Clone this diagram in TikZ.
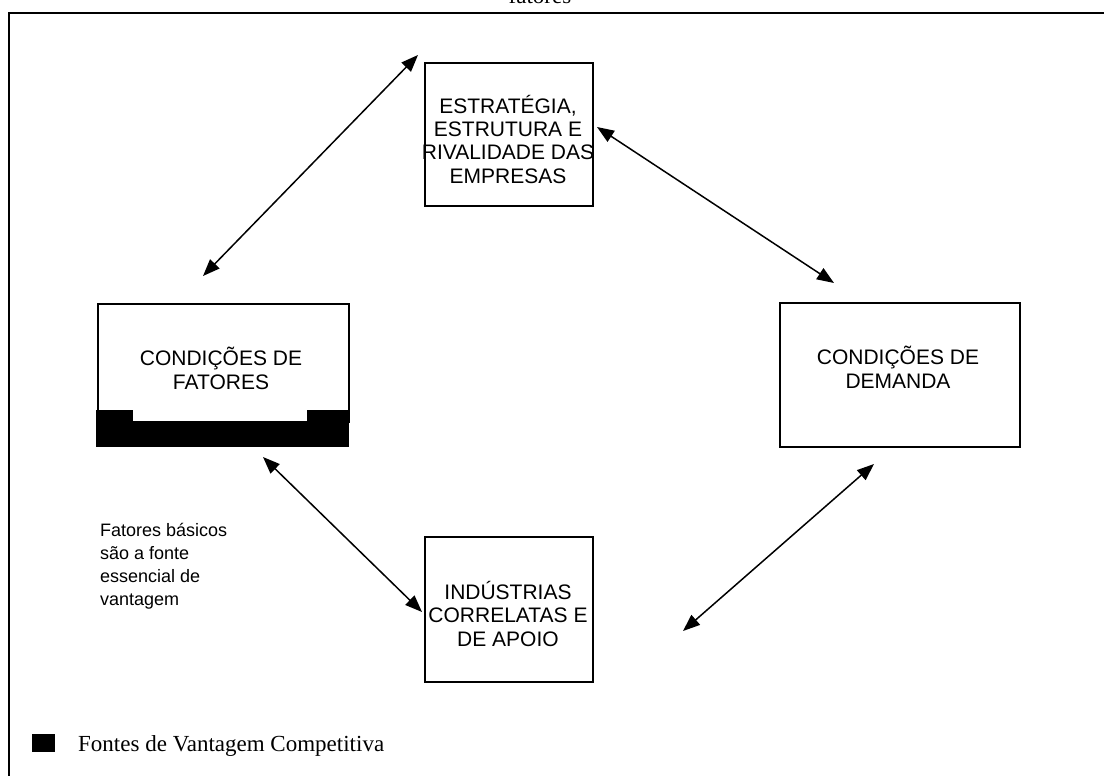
\documentclass[tikz,border=0pt]{standalone}
\usepackage{fontspec}
\setmainfont{Liberation Serif}
\newfontfamily\arialfont{Liberation Sans}
\usetikzlibrary{arrows.meta}

\tikzset{
  frameline/.style={line width=2pt},
  boxline/.style={draw, line width=1.8pt},
  boxlabel/.style={font=\arialfont\fontsize{21}{23.3}\selectfont, align=center, anchor=base, inner sep=0pt},
  notelabel/.style={font=\arialfont\fontsize{18}{23}\selectfont, align=left, anchor=base west, inner sep=0pt},
  linkarrow/.style={line width=1.5pt, {Triangle[length=17pt,width=13pt]}-{Triangle[length=17pt,width=13pt]}},
  blackfill/.style={fill=black, draw=none}
}

\begin{document}
\begin{tikzpicture}[x=1pt, y=-1pt]
  \useasboundingbox (0,0) rectangle (1104,776);

  % caption fragment above the frame
  \node[font=\fontsize{23}{26}\selectfont, anchor=base, inner sep=0pt] (caption) at (540,4) {fatores};

  % outer frame (top and left edges)
  \draw[frameline] (9,776) -- (9,13) -- (1104,13);

  % the four determinants (label anchors sit on the last baseline)
  \node[boxline, minimum width=168pt, minimum height=143pt, anchor=north west] (estrategia) at (424,62) {};
  \node[boxlabel] (estrategiaT) at (508,183) {ESTRATÉGIA,\\ESTRUTURA E\\RIVALIDADE DAS\\EMPRESAS};

  \node[boxline, minimum width=251pt, minimum height=118pt, anchor=north west] (fatores) at (97,303) {};
  \node[boxlabel] (fatoresT) at (221,389) {CONDIÇÕES DE\\FATORES};

  \node[boxline, minimum width=240pt, minimum height=144pt, anchor=north west] (demanda) at (779,302) {};
  \node[boxlabel] (demandaT) at (898,388) {CONDIÇÕES DE\\DEMANDA};

  \node[boxline, minimum width=168pt, minimum height=145pt, anchor=north west] (industrias) at (424,536) {};
  \node[boxlabel] (industriasT) at (508,646) {INDÚSTRIAS\\CORRELATAS E\\DE APOIO};

  % sources of advantage under the factor box
  \fill[blackfill] (96,421) rectangle (349,447);
  \fill[blackfill] (96,410) rectangle (133,437);
  \fill[blackfill] (307,410) rectangle (349,437);

  % arrow end points
  \coordinate (a1s) at (418,55);  \coordinate (a1e) at (203,276);
  \coordinate (a2s) at (597,127); \coordinate (a2e) at (834,283);
  \coordinate (a3s) at (263,457); \coordinate (a3e) at (422,612);
  \coordinate (a4s) at (683,631); \coordinate (a4e) at (874,464);

  \draw[linkarrow] (a1s) -- (a1e);
  \draw[linkarrow] (a2s) -- (a2e);
  \draw[linkarrow] (a3s) -- (a3e);
  \draw[linkarrow] (a4s) -- (a4e);

  % note on basic factors
  \node[notelabel] (nota) at (100,605) {Fatores básicos\\são a fonte\\essencial de\\vantagem};

  % legend
  \fill[blackfill] (32,734) rectangle (55,752);
  \node[font=\fontsize{23}{26}\selectfont, anchor=base west, inner sep=0pt] (legenda) at (78,751) {Fontes de Vantagem Competitiva};
\end{tikzpicture}
\end{document}
